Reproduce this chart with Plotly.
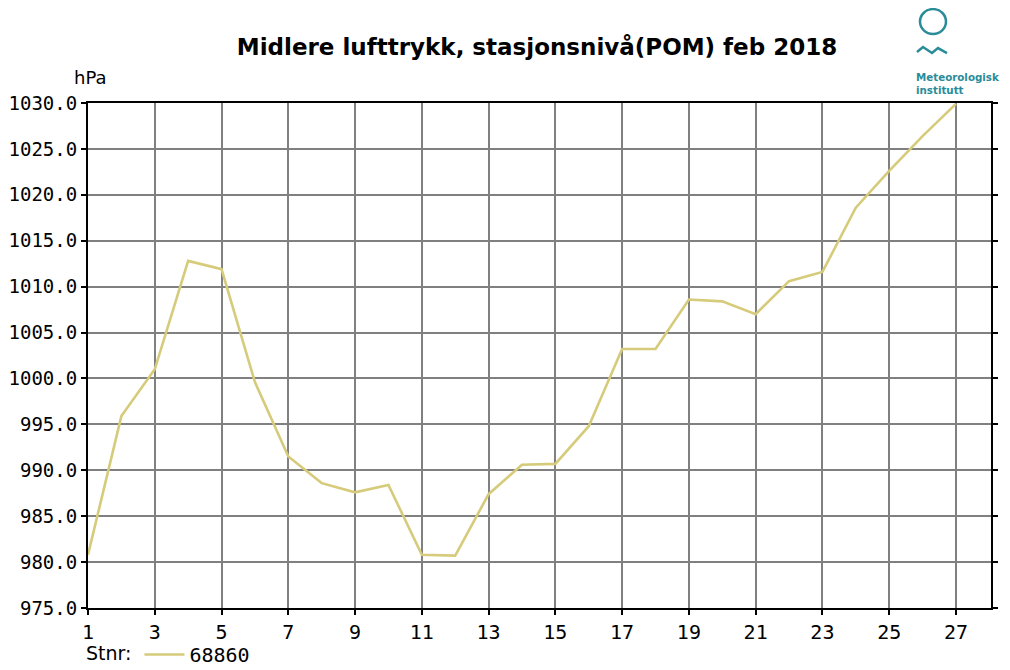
import plotly.graph_objects as go

# Daily mean station pressure, feb 2018 (station 68860)
days = list(range(1, 28))
pressure = [980.8, 995.9, 1001.0, 1012.8, 1011.9, 999.6, 991.5, 988.6, 987.6, 988.4,
            980.8, 980.7, 987.4, 990.6, 990.7, 994.8, 1003.2, 1003.2, 1008.6, 1008.4,
            1007.0, 1010.6, 1011.6, 1018.6, 1022.6, 1026.4, 1029.9]

x_ticks = list(range(1, 28, 2))
y_ticks = [975 + 5 * i for i in range(12)]
y_ticktext = [f"{v:.1f}" for v in y_ticks]

station = "68860"
title_text = "Midlere lufttrykk, stasjonsnivå(POM) feb 2018"

# the page body adds an 8px margin, so the figure is made 8px smaller
OFF = 8
W, H = 1010 - OFF, 670 - OFF
# plot area in screen pixels
L, R, T, B = 88, 991, 103, 608.5


def px(x, y):
    return (x - L) / (R - L), (B - y) / (B - T)


fig = go.Figure()
fig.add_trace(go.Scatter(x=days, y=pressure, mode='lines', name=station,
                         line=dict(color='#d6cb7a', width=2.6)))

teal = '#2b8c99'
cx0, cy0 = px(920, 34)
cx1, cy1 = px(946, 9)
wave = [(917, 52), (923, 47), (932, 53), (938, 48), (947, 53)]
wave_path = "M " + " L ".join(f"{px(a, b)[0]},{px(a, b)[1]}" for a, b in wave)

fig.update_layout(
    width=W, height=H,
    margin=dict(l=L - OFF, r=1010 - R, t=T - OFF, b=670 - B, autoexpand=False),
    paper_bgcolor='white', plot_bgcolor='white',
    font=dict(family="DejaVu Sans Mono", size=20, color='black'),
    title=dict(text=title_text, x=(537 - OFF) / W, xanchor='center', y=1 - (47 - OFF) / H, yanchor='middle',
               font=dict(family="DejaVu Sans", size=23, color='black', weight='bold')),
    xaxis=dict(range=[1, 28.05], tickvals=x_ticks, showgrid=True, gridcolor='#808080', gridwidth=1.5,
               showline=True, linecolor='black', linewidth=2, mirror=True, automargin=False,
               ticks='outside', ticklen=5, tickcolor='black', tickwidth=2, zeroline=False,
               tickfont=dict(size=20)),
    yaxis=dict(range=[975, 1030], tickvals=y_ticks, ticktext=y_ticktext, showgrid=True,
               gridcolor='#808080', gridwidth=1.5, automargin=False,
               showline=True, linecolor='black', linewidth=2, mirror='ticks',
               ticks='outside', ticklen=5, tickcolor='black', tickwidth=2, zeroline=False,
               tickfont=dict(size=19)),
    showlegend=True,
    legend=dict(orientation='h', x=px(84, 0)[0], y=px(0, 655)[1], xanchor='left', yanchor='middle',
                itemwidth=40,
                title=dict(text="Stnr:", font=dict(family="DejaVu Sans", size=19)),
                font=dict(family="DejaVu Sans Mono", size=20), bgcolor='rgba(0,0,0,0)'),
    shapes=[
        dict(type='circle', xref='paper', yref='paper', x0=cx0, y0=cy0, x1=cx1, y1=cy1,
             line=dict(color=teal, width=2.5)),
        dict(type='path', xref='paper', yref='paper', path=wave_path, line=dict(color=teal, width=2.5)),
    ],
    annotations=[
        dict(text="hPa", xref='paper', yref='paper', x=px(90, 0)[0], y=px(0, 77)[1],
             showarrow=False, xanchor='center', yanchor='middle',
             font=dict(family="DejaVu Sans", size=18)),
        dict(text="<b>Meteorologisk<br>institutt</b>", xref='paper', yref='paper',
             x=px(914, 0)[0], y=px(0, 69)[1], showarrow=False, xanchor='left', yanchor='top',
             align='left', font=dict(family="DejaVu Sans", size=10.3, color=teal)),
    ],
)

fig.write_html("out.html")
